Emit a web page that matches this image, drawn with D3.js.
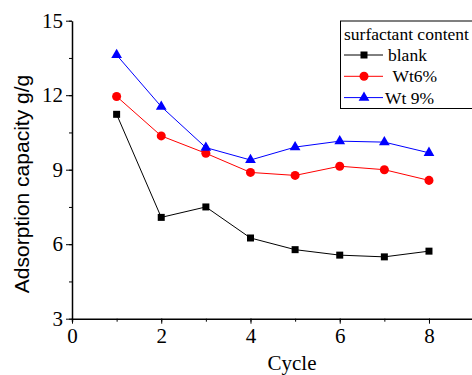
<!DOCTYPE html>
<html>
<head>
<meta charset="utf-8">
<script src="https://cdn.jsdelivr.net/npm/d3@7"></script>
<style>
  body { margin: 0; background: #fff; }
  svg { display: block; }
  .serif { font-family: "Liberation Serif", "Times New Roman", serif; }
  .sans { font-family: "Liberation Sans", Arial, sans-serif; }
</style>
</head>
<body>
<div id="chart"></div>
<script>
// data
var cycles = [1, 2, 3, 4, 5, 6, 7, 8];
var blank = [11.23, 7.08, 7.50, 6.25, 5.78, 5.56, 5.49, 5.72];
var wt6 = [11.95, 10.36, 9.66, 8.89, 8.77, 9.14, 9.00, 8.57];
var wt9 = [13.62, 11.54, 9.89, 9.39, 9.91, 10.15, 10.11, 9.68];
var xTicks = [0, 2, 4, 6, 8];
var yTicks = [3, 6, 9, 12, 15];

var series = [
  {name: "blank", values: blank, color: "#000000", symbol: d3.symbolSquare, label: "blank", size: 49},
  {name: "wt6", values: wt6, color: "#ff0000", symbol: d3.symbolCircle, label: "\u00a0Wt6%", size: 64},
  {name: "wt9", values: wt9, color: "#0000ff", symbol: d3.symbolTriangle, label: "Wt 9%", size: 50}
];

var W = 472, H = 375;

var svg = d3.select("#chart").append("svg")
  .attr("width", W)
  .attr("height", H);

var x = d3.scaleLinear().domain([0, 9]).range([72, 473.6]);
var y = d3.scaleLinear().domain([3, 15]).range([318.7, 20.7]);

// x axis: minor ticks + line, then major ticks with labels
var xAxis = svg.append("g")
  .attr("transform", "translate(0," + y(3) + ")");
xAxis.call(d3.axisBottom(x).tickValues(d3.range(0, 10, 1)).tickSize(3).tickFormat(""));
xAxis.select(".domain").attr("stroke-width", 1.5);
var xMajor = svg.append("g")
  .attr("transform", "translate(0," + y(3) + ")")
  .call(d3.axisBottom(x).tickValues(xTicks).tickSize(5).tickSizeOuter(0).tickPadding(4));
xMajor.select(".domain").remove();
xMajor.selectAll("text")
  .attr("class", "serif")
  .style("font-size", "21px")
  .attr("fill", "#000");

// y axis
var yAxis = svg.append("g")
  .attr("transform", "translate(" + x(0) + ",0)");
yAxis.call(d3.axisLeft(y).tickValues(d3.range(3, 15.1, 1.5)).tickSize(3).tickFormat("").tickSizeOuter(0));
yAxis.select(".domain").attr("stroke-width", 1.5);
var yMajor = svg.append("g")
  .attr("transform", "translate(" + x(0) + ",0)")
  .call(d3.axisLeft(y).tickValues(yTicks).tickSize(6).tickPadding(3));
yMajor.select(".domain").remove();
yMajor.selectAll("text")
  .attr("class", "serif")
  .style("font-size", "21px")
  .attr("fill", "#000");
svg.selectAll("g").attr("font-family", null);

// axis labels
svg.append("text")
  .attr("class", "serif")
  .attr("x", 292)
  .attr("y", 370)
  .attr("text-anchor", "middle")
  .style("font-size", "21px")
  .text("Cycle");

svg.append("text")
  .attr("class", "sans")
  .attr("transform", "translate(29,184) rotate(-90)")
  .attr("text-anchor", "middle")
  .style("font-size", "21px")
  .text("Adsorption capacity g/g");

// lines and markers
var line = d3.line()
  .x(function(d, i) { return x(cycles[i]); })
  .y(function(d) { return y(d); });

series.forEach(function(s) {
  svg.append("path")
    .datum(s.values)
    .attr("fill", "none")
    .attr("stroke", s.color)
    .attr("stroke-width", 1)
    .attr("d", line);

  svg.append("g")
    .selectAll("path")
    .data(s.values)
    .enter()
    .append("path")
      .attr("transform", function(d, i) { return "translate(" + x(cycles[i]) + "," + y(d) + ")"; })
      .attr("d", d3.symbol().type(s.symbol).size(s.size))
      .attr("fill", s.color);
});

// legend
var legend = svg.append("g");
legend.append("rect")
  .attr("x", 340.5)
  .attr("y", 21)
  .attr("width", 140)
  .attr("height", 87.5)
  .attr("fill", "#fff")
  .attr("stroke", "#000")
  .attr("stroke-width", 1);

legend.append("text")
  .attr("class", "serif")
  .attr("x", 344)
  .attr("y", 39.5)
  .style("font-size", "17.5px")
  .text("surfactant content");

series.forEach(function(s, i) {
  var ly = 55 + i * 21.3;
  legend.append("line")
    .attr("x1", 344).attr("x2", 383)
    .attr("y1", ly).attr("y2", ly)
    .attr("stroke", s.color)
    .attr("stroke-width", 1);
  legend.append("path")
    .attr("transform", "translate(364," + ly + ")")
    .attr("d", d3.symbol().type(s.symbol).size(s.size))
    .attr("fill", s.color);
  legend.append("text")
    .attr("class", "serif")
    .attr("x", i === 2 ? 385 : 388)
    .attr("y", ly + 6)
    .style("font-size", "17.5px")
    .text(s.label);
});
</script>
</body>
</html>
